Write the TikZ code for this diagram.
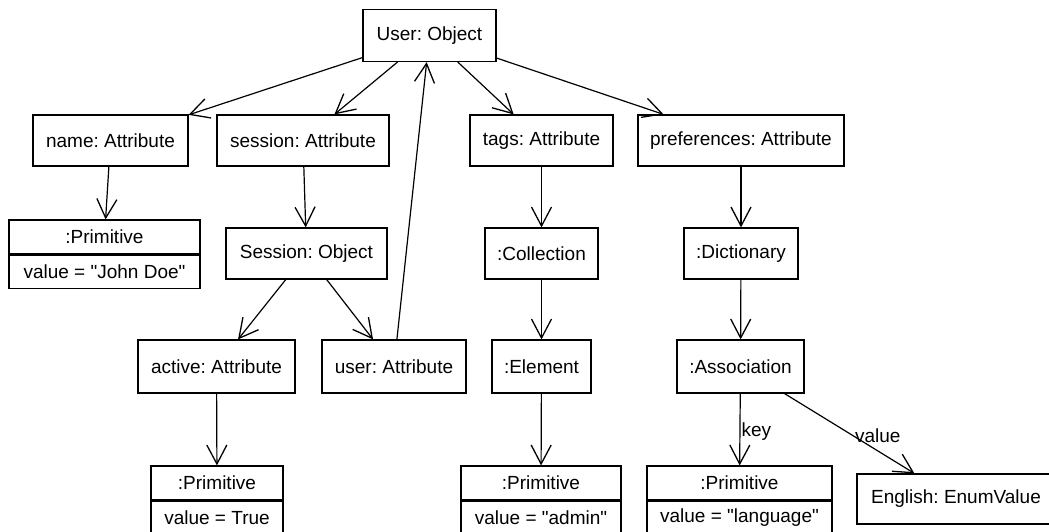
\documentclass[tikz,border=0pt]{standalone}
\usepackage{fontspec}
\newfontfamily\uifont{Liberation Sans}[Ligatures=ResetAll]
\usetikzlibrary{arrows.meta}

\begin{document}
\frenchspacing
\begin{tikzpicture}[x=1pt, y=-1pt,
  uitext/.style={font=\uifont\fontsize{19}{23}\selectfont},
  objbox/.style={draw, line width=1.2pt, rectangle, inner sep=0pt,
    minimum height=#1, uitext},
  objbox/.default=51,
  link/.style={line width=1.2pt, -{Straight Barb[length=19pt, width=20pt, line width=1.3pt]}},
  edgelabel/.style={uitext, anchor=west, inner sep=1pt}
]
  % canvas
  \clip (0,0) rectangle (1049,531);
  \fill[white] (0,0) rectangle (1049,531);

  % top object and its attributes
  \node[objbox=52, minimum width=133] (user) at (429.5,35.5) {User: Object};
  \node[objbox, minimum width=155] (nameA) at (110.5,140.5) {name: Attribute};
  \node[objbox, minimum width=172] (sessA) at (303,140.5) {session: Attribute};
  \node[objbox, minimum width=143] (tagsA) at (541.5,140.5) {tags: Attribute};
  \node[objbox, minimum width=206] (prefA) at (741,140.5) {preferences: Attribute};

  % second row
  \node[objbox=34, minimum width=191] (prim1) at (104.5,237) {:Primitive};
  \node[objbox=33, minimum width=191, anchor=north] (prim1v) at (prim1.south) {value = "John Doe"};
  \node[objbox, minimum width=161] (sessO) at (306.5,253.5) {Session: Object};
  \node[objbox, minimum width=113] (coll) at (541.5,253.5) {:Collection};
  \node[objbox, minimum width=114] (dict) at (741,253.5) {:Dictionary};

  % third row
  \node[objbox=53, minimum width=157] (activeA) at (216.5,366.5) {active: Attribute};
  \node[objbox=53, minimum width=144] (userA) at (394,366.5) {user: Attribute};
  \node[objbox=53, minimum width=99] (elem) at (541.5,366.5) {:Element};
  \node[objbox=53, minimum width=127] (assoc) at (740.5,366.5) {:Association};

  % bottom row
  \node[objbox=34, minimum width=132] (prim2) at (217,483) {:Primitive};
  \node[objbox=33, minimum width=132, anchor=north] (prim2v) at (prim2.south) {value = True};
  \node[objbox=34, minimum width=160] (prim3) at (541,483) {:Primitive};
  \node[objbox=33, minimum width=160, anchor=north] (prim3v) at (prim3.south) {value = "admin"};
  \node[objbox=34, minimum width=185] (prim4) at (739.5,483) {:Primitive};
  \node[objbox=33, minimum width=185, anchor=north] (prim4v) at (prim4.south) {value = "language"};
  \node[objbox=50, minimum width=198] (enum) at (956,499) {English: EnumValue};

  % connectors
  \draw[link] (user) -- (nameA);
  \draw[link] (user) -- (sessA);
  \draw[link] (user) -- (tagsA);
  \draw[link] (user) -- (prefA);
  \draw[link] (nameA) -- (prim1);
  \draw[link] (sessA) -- (sessO);
  \draw[link] (sessO) -- (activeA);
  \draw[link] (sessO) -- (userA);
  \draw[link] (userA) -- (user);
  \draw[link] (activeA) -- (prim2);
  \draw[link] (tagsA) -- (coll);
  \draw[link] (coll) -- (elem);
  \draw[link] (elem) -- (prim3);
  \draw[link] (prefA) -- (dict);
  \draw[link] (dict) -- (assoc);
  \draw[link] (assoc) -- node[edgelabel, yshift=-2pt] {key} (prim4);
  \draw[link] (assoc) -- node[edgelabel, xshift=4pt, yshift=-2pt] {value} (enum);
\end{tikzpicture}
\end{document}
